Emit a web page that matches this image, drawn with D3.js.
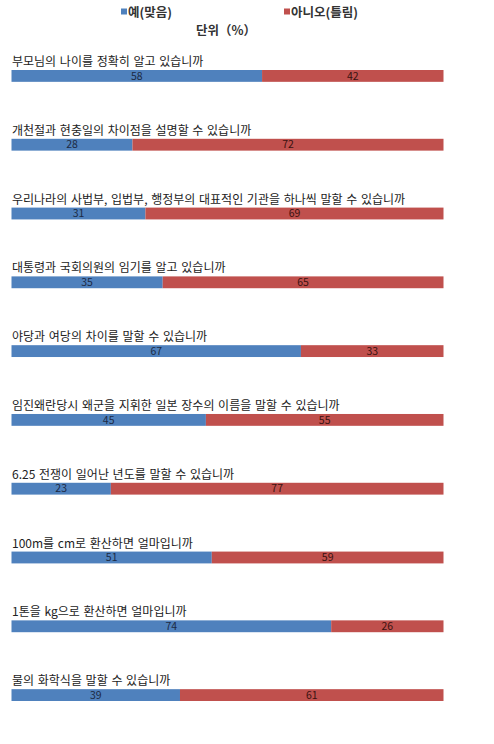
<!DOCTYPE html>
<html>
<head>
<meta charset="utf-8">
<script src="https://cdn.jsdelivr.net/npm/d3@7"></script>
<style>
  body { margin: 0; background: #fff; }
  svg { display: block; font-family: "Noto Sans CJK KR", "Noto Sans", sans-serif; }
</style>
</head>
<body>
<div id="chart"></div>
<script>
// questions, top to bottom
const questions = [
  "부모님의 나이를 정확히 알고 있습니까",
  "개천절과 현충일의 차이점을 설명할 수 있습니까",
  "우리나라의 사법부, 입법부, 행정부의 대표적인 기관을 하나씩 말할 수 있습니까",
  "대통령과 국회의원의 임기를 알고 있습니까",
  "야당과 여당의 차이를 말할 수 있습니까",
  "임진왜란당시 왜군을 지휘한 일본 장수의 이름을 말할 수 있습니까",
  "6.25 전쟁이 일어난 년도를 말할 수 있습니까",
  "100m를 cm로 환산하면 얼마입니까",
  "1톤을 kg으로 환산하면 얼마입니까",
  "물의 화학식을 말할 수 있습니까"
];
const yes = [58, 28, 31, 35, 67, 45, 23, 51, 74, 39];
const no = [42, 72, 69, 65, 33, 55, 77, 59, 26, 61];
const seriesNames = ["예(맞음)", "아니오(틀림)"];
const unitLabel = "단위（%）";

const colors = ["#4f81bd", "#c0504d"];
const textColors = ["#1c2a44", "#3a1210"];

const width = 494, height = 744;
const margin = { left: 11.5, right: 50.5, top: 70, bottom: 43 };

const svg = d3.select("#chart").append("svg")
  .attr("width", width)
  .attr("height", height);

// each row is a 100% stacked bar
const rows = questions.map((q, i) => {
  const total = yes[i] + no[i];
  return { q, vals: [yes[i], no[i]], total };
});

const stack = d3.stack()
  .keys([0, 1])
  .value((d, k) => d.vals[k] / d.total * 100);
const layers = stack(rows);

const x = d3.scaleLinear()
  .domain([0, 100])
  .range([margin.left, width - margin.right]);

const y = d3.scaleBand()
  .domain(questions)
  .range([margin.top, height - margin.bottom])
  .paddingInner(0.828)
  .paddingOuter(0);

// question labels
svg.append("g")
  .selectAll("text")
  .data(rows)
  .join("text")
  .attr("x", x(0) + 0.5)
  .attr("y", d => y(d.q) - 4)
  .attr("font-size", 12)
  .attr("word-spacing", 1)
  .attr("fill", "#222")
  .text(d => d.q);

// bars
layers.forEach((layer, k) => {
  const g = svg.append("g");
  g.selectAll("rect")
    .data(layer)
    .join("rect")
    .attr("x", d => x(d[0]))
    .attr("y", d => y(d.data.q))
    .attr("width", d => x(d[1]) - x(d[0]))
    .attr("height", y.bandwidth())
    .attr("fill", colors[k]);

  g.selectAll("text")
    .data(layer)
    .join("text")
    .attr("x", d => (x(d[0]) + x(d[1])) / 2)
    .attr("y", d => y(d.data.q) + y.bandwidth() / 2)
    .attr("dy", "0.36em")
    .attr("text-anchor", "middle")
    .attr("font-size", 10.5)
    .attr("fill", textColors[k])
    .text(d => d.data.vals[k]);
});

// legend
const legendX = [121, 284];
const legend = svg.append("g");
seriesNames.forEach((name, k) => {
  legend.append("rect")
    .attr("x", legendX[k])
    .attr("y", 8.5)
    .attr("width", 6)
    .attr("height", 6)
    .attr("fill", colors[k]);
  legend.append("text")
    .attr("x", legendX[k] + 7)
    .attr("y", 17)
    .attr("font-size", 12.5)
    .attr("font-weight", "bold")
    .attr("fill", "#333")
    .text(name);
});
legend.append("text")
  .attr("x", 196)
  .attr("y", 35)
  .attr("font-size", 12.5)
  .attr("font-weight", "bold")
  .attr("fill", "#333")
  .text(unitLabel);
</script>
</body>
</html>
